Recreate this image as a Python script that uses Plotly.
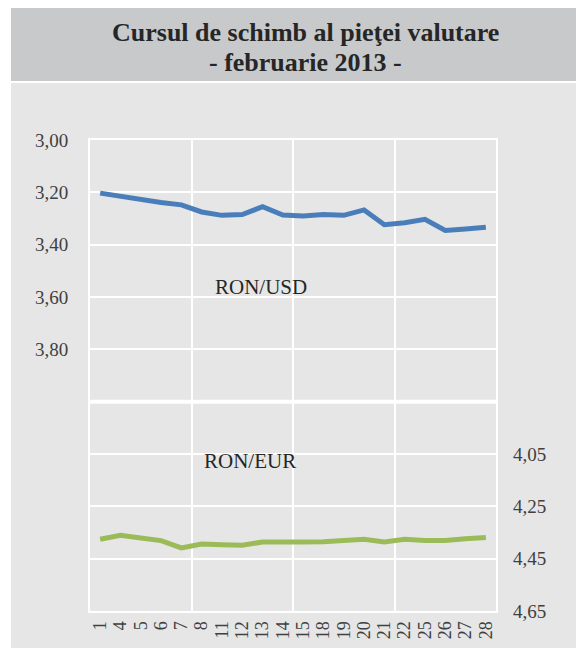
import plotly.graph_objects as go

days = ["1", "4", "5", "6", "7", "8", "11", "12", "13", "14", "15", "18", "19", "20", "21", "22", "25", "26", "27", "28"]
ron_usd = [3.203, 3.216, 3.230, 3.239, 3.248, 3.275, 3.288, 3.285, 3.255, 3.287, 3.290,
           3.285, 3.288, 3.267, 3.324, 3.316, 3.303, 3.346, 3.340, 3.333]
ron_eur = [4.376, 4.361, 4.371, 4.381, 4.409, 4.394, 4.397, 4.399, 4.386, 4.384, 4.386,
           4.385, 4.381, 4.376, 4.386, 4.376, 4.381, 4.381, 4.374, 4.369]

left_ticks = [3.0, 3.2, 3.4, 3.6, 3.8, 4.0, 4.2, 4.4, 4.6, 4.8]
left_labels = ["3,00", "3,20", "3,40", "3,60", "3,80", "", "", "", "", ""]
right_ticks = [4.05, 4.25, 4.45, 4.65]
right_labels = ["4,05", "4,25", "4,45", "4,65"]

OFF = 8  # default page body margin
W, H = 584 - OFF, 648 - OFF
ML, MT = 90 - OFF, 140 - OFF
MR, MB = 584 - 496, 648 - 611
PW, PH = W - ML - MR, H - MT - MB

def px_x(x):
    return (x - OFF - ML) / PW

def px_y(y):
    return 1 - (y - OFF - MT) / PH

idx = list(range(len(days)))
FONT = "Liberation Serif, Times New Roman, serif"

fig = go.Figure()
fig.add_trace(go.Scatter(x=idx, y=ron_usd, mode="lines", name="RON/USD",
                         line=dict(color="#4a7ebb", width=5), yaxis="y"))
fig.add_trace(go.Scatter(x=idx, y=ron_eur, mode="lines", name="RON/EUR",
                         line=dict(color="#9bbb59", width=5), yaxis="y2"))

shapes = [
    dict(type="rect", xref="paper", yref="paper", x0=px_x(11), x1=px_x(590),
         y0=px_y(660), y1=px_y(83), fillcolor="#e6e6e6", line=dict(width=0), layer="below"),
    dict(type="rect", xref="paper", yref="paper", x0=px_x(11), x1=px_x(590),
         y0=px_y(81), y1=px_y(7), fillcolor="#c8c9cb", line=dict(width=0), layer="below"),
    dict(type="line", xref="paper", yref="y", x0=0, x1=1, y0=4.0, y1=4.0,
         line=dict(color="white", width=4), layer="below"),
]

annotations = [
    dict(text="<b>Cursul de schimb al pieţei valutare</b>", xref="paper", yref="paper",
         x=px_x(305), y=px_y(32), showarrow=False, xanchor="center", yanchor="middle",
         font=dict(family=FONT, size=26, color="#262626")),
    dict(text="<b>- februarie 2013 -</b>", xref="paper", yref="paper",
         x=px_x(305), y=px_y(62), showarrow=False, xanchor="center", yanchor="middle",
         font=dict(family=FONT, size=26, color="#262626")),
    dict(text="RON/USD", xref="x", yref="y", x=7.92, y=3.56, showarrow=False,
         font=dict(family=FONT, size=21, color="#262626")),
    dict(text="RON/EUR", xref="x", yref="y", x=7.38, y=4.225, showarrow=False,
         font=dict(family=FONT, size=21, color="#262626")),
]

fig.update_layout(
    width=W, height=H,
    margin=dict(l=ML, r=MR, t=MT, b=MB),
    paper_bgcolor="white",
    plot_bgcolor="#e6e6e6",
    showlegend=False,
    shapes=shapes,
    annotations=annotations,
    xaxis=dict(
        range=[-0.5, len(days) - 0.5], automargin=False,
        tickvals=idx, ticktext=days, tickangle=-90,
        tickfont=dict(family=FONT, size=18, color="#404040"),
        showgrid=False, zeroline=False,
        showline=True, linecolor="white", linewidth=2, mirror=True,
        ticks="", ticklabelstandoff=1,
        minor=dict(tickvals=[4.5, 9.5, 14.5], showgrid=True, gridcolor="white", gridwidth=2, ticks=""),
    ),
    yaxis=dict(
        range=[4.8, 3.0], automargin=False,
        tickvals=left_ticks, ticktext=left_labels,
        tickfont=dict(family=FONT, size=19, color="#404040"),
        showgrid=True, gridcolor="white", gridwidth=2, zeroline=False,
        showline=True, linecolor="white", linewidth=2, mirror=True,
        ticks="", ticklabelstandoff=16,
    ),
    yaxis2=dict(
        range=[4.65, 2.85], overlaying="y", side="right", automargin=False,
        tickvals=right_ticks, ticktext=right_labels,
        tickfont=dict(family=FONT, size=19, color="#404040"),
        showgrid=False, zeroline=False, showline=False,
        ticks="", ticklabelstandoff=16,
    ),
)

fig.write_html("out.html")
